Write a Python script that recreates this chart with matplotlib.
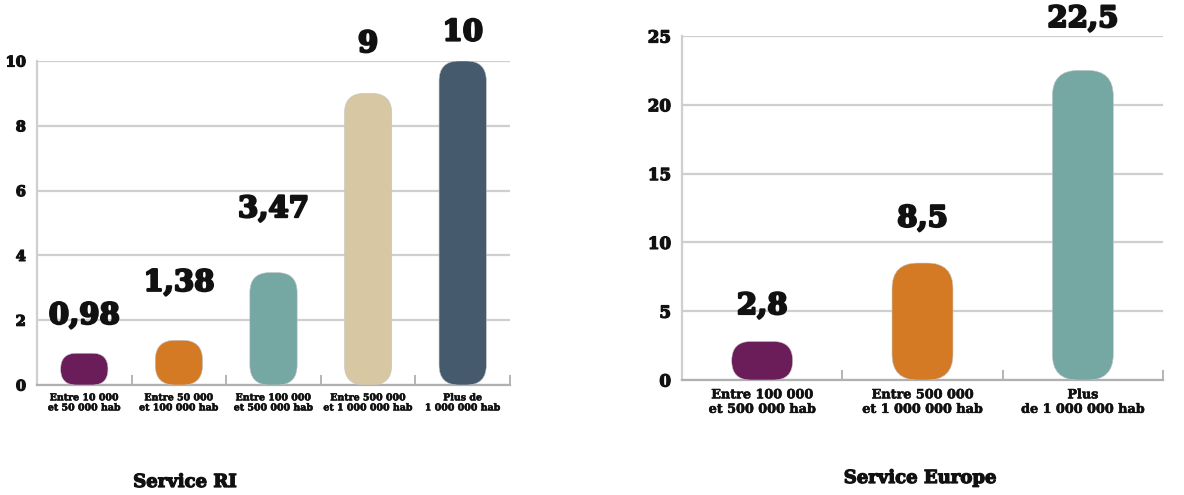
import matplotlib
matplotlib.use("Agg")
import matplotlib.pyplot as plt
import matplotlib.patheffects as pe
from matplotlib.patches import FancyBboxPatch

plt.rcParams['font.family'] = ['DejaVu Serif']
plt.rcParams['font.weight'] = 'bold'

# Service RI
ri_cats = ["Entre 10 000\net 50 000 hab", "Entre 50 000\net 100 000 hab",
           "Entre 100 000\net 500 000 hab", "Entre 500 000\net 1 000 000 hab",
           "Plus de\n1 000 000 hab"]
ri_vals = [0.98, 1.38, 3.47, 9, 10]
ri_labels = ["0,98", "1,38", "3,47", "9", "10"]
ri_colors = ["#6b1d5a", "#d47a24", "#75a7a3", "#d7c8a3", "#465a6d"]

# Service Europe
eu_cats = ["Entre 100 000\net 500 000 hab", "Entre 500 000\net 1 000 000 hab",
           "Plus\nde 1 000 000 hab"]
eu_vals = [2.8, 8.5, 22.5]
eu_labels = ["2,8", "8,5", "22,5"]
eu_colors = ["#6b1d5a", "#d47a24", "#75a7a3"]

INK = "#111111"


def fat(lw):
    # thicken the glyphs a bit, the original uses a very heavy serif
    return [pe.withStroke(linewidth=lw, foreground=INK)]


def panel(ax, cats, vals, labels, colors, ymax, ystep, width, rfrac,
          tick_fs, cat_fs, val_fs, label_gap):
    n = len(cats)
    ax.set_xlim(-0.5, n - 0.5)
    ax.set_ylim(0, ymax)
    bars = ax.bar(range(n), vals, width=width, color=colors)
    # pixel scale for round corners
    p0 = ax.transData.transform((0, 0))
    p1 = ax.transData.transform((1, 1))
    xpp = 1.0 / (p1[0] - p0[0])
    ypp = 1.0 / (p1[1] - p0[1])
    asp = ypp / xpp
    for b in bars:
        x0, w, h = b.get_x(), b.get_width(), b.get_height()
        b.remove()
        w_px = w / xpp
        h_px = h / ypp
        r_px = min(rfrac * w_px, h_px / 2 - 0.2)
        patch = FancyBboxPatch((x0, 0), w, h,
                               boxstyle="round,pad=0,rounding_size=%f" % (r_px * xpp),
                               mutation_aspect=asp, facecolor=b.get_facecolor(),
                               edgecolor="#c4c4c4", linewidth=0.4, zorder=3)
        ax.add_patch(patch)
    for i, (v, lab) in enumerate(zip(vals, labels)):
        ax.annotate(lab, (i, v), xytext=(0, label_gap[i] * 0.72),
                    textcoords="offset points", ha="center", va="center",
                    fontsize=val_fs, fontweight="bold", color=INK,
                    path_effects=fat(1.6))

    ax.set_yticks(range(0, ymax + 1, ystep))
    ax.yaxis.grid(True, color="#cfcfcf", linewidth=1.6, zorder=0)
    ax.set_axisbelow(True)
    ax.tick_params(axis="y", length=0, labelsize=tick_fs, pad=8, labelcolor=INK)
    ax.set_xticks(range(n))
    ax.set_xticklabels(cats, fontsize=cat_fs, linespacing=1.15, color=INK)
    ax.set_xticks([i + 0.5 for i in range(n)], minor=True)
    ax.tick_params(axis="x", which="major", length=0, pad=6)
    ax.tick_params(axis="x", which="minor", direction="in", length=7,
                   color="#a8a8a8", width=1.2)
    for t in ax.get_yticklabels():
        t.set_path_effects(fat(0.9))
    for t in ax.get_xticklabels():
        t.set_path_effects(fat(0.4))
    for s in ["top", "right"]:
        ax.spines[s].set_visible(False)
    ax.spines["left"].set_color("#cfcfcf")
    ax.spines["left"].set_linewidth(1.6)
    ax.spines["bottom"].set_color("#b0b0b0")
    ax.spines["bottom"].set_linewidth(1.6)


fig = plt.figure(figsize=(11.84, 4.95), dpi=100)
ax1 = fig.add_axes([37 / 1184, 1 - 385 / 495, 473 / 1184, 324 / 495])
ax2 = fig.add_axes([682 / 1184, 1 - 380 / 495, 481 / 1184, 344 / 495])

panel(ax1, ri_cats, ri_vals, ri_labels, ri_colors, 10, 2, 0.5, 0.42,
      10.5, 6.8, 21, [38, 58, 64, 50, 29])
panel(ax2, eu_cats, eu_vals, eu_labels, eu_colors, 25, 5, 0.38, 0.42,
      12, 9.2, 21, [36, 45, 52])

fig.text(185 / 1184, 1 - 482 / 495, "Service RI", ha="center", va="center",
         fontsize=13, fontweight="bold", color=INK, path_effects=fat(0.9))
fig.text(920 / 1184, 1 - 478 / 495, "Service Europe", ha="center", va="center",
         fontsize=13, fontweight="bold", color=INK, path_effects=fat(0.9))

fig.savefig("out.png", dpi=100, facecolor="white")
